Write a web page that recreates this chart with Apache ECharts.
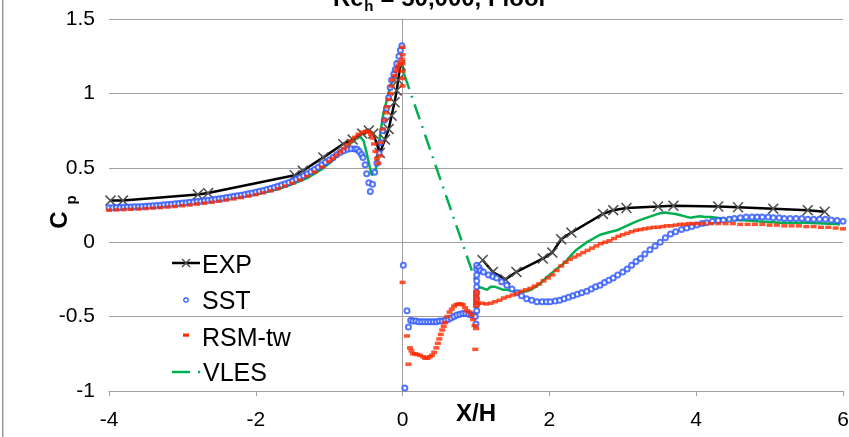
<!DOCTYPE html>
<html><head><meta charset="utf-8">
<script src="https://cdn.jsdelivr.net/npm/echarts@6/dist/echarts.min.js"></script>
<style>html,body{margin:0;padding:0;background:#fff}#c{width:849px;height:437px}</style>
</head><body><div id="c"></div>
<script>
// ---------- DATA ----------
const expUpX = [-3.98,-3.81,-2.79,-2.65,-1.47,-1.36,-1.08,-0.81,-0.68,-0.55,-0.46,-0.40,-0.31,-0.24,-0.19,-0.15,-0.11,-0.08,-0.06,-0.03];
const expUpY = [0.28,0.28,0.32,0.33,0.45,0.48,0.57,0.66,0.69,0.73,0.75,0.73,0.60,0.69,0.76,0.85,0.94,1.02,1.09,1.19];
const expDownX = [1.09,1.23,1.40,1.55,1.91,2.04,2.16,2.30,2.73,2.87,3.05,3.48,3.69,4.30,4.57,5.05,5.52,5.75];
const expDownY = [-0.12,-0.20,-0.25,-0.20,-0.11,-0.07,0.02,0.065,0.19,0.215,0.23,0.24,0.245,0.24,0.235,0.225,0.215,0.205];

const sstX = [-4.00,-3.95,-3.90,-3.85,-3.80,-3.75,-3.70,-3.65,-3.60,-3.55,-3.50,-3.45,-3.40,-3.35,-3.30,-3.25,-3.20,-3.15,-3.10,-3.05,
 -3.00,-2.95,-2.90,-2.85,-2.80,-2.75,-2.70,-2.65,-2.60,-2.55,-2.50,-2.45,-2.40,-2.35,-2.30,-2.25,-2.20,-2.15,-2.10,-2.05,
 -2.00,-1.95,-1.90,-1.85,-1.80,-1.75,-1.70,-1.65,-1.60,-1.55,-1.50,-1.45,-1.40,-1.35,-1.30,-1.25,-1.20,-1.15,-1.10,-1.05,
 -1.00,-0.95,-0.90,-0.85,-0.80,-0.75,-0.70,-0.65,-0.62,-0.59,-0.56,-0.54,-0.51,-0.49,-0.46,-0.44,-0.41,-0.38,-0.35,-0.32,
 -0.30,-0.27,-0.25,-0.22,-0.19,-0.17,-0.15,-0.12,-0.10,-0.08,-0.05,-0.03,-0.01,
 0.01,0.03,0.06,0.08,0.11,0.14,0.18,0.22,0.26,0.30,0.34,0.38,0.42,0.46,0.50,0.54,0.58,0.62,0.66,0.70,0.74,0.78,0.82,0.86,0.90,0.94,0.97,0.99,1.00,
 1.01,1.01,1.01,1.01,1.01,1.01,1.01,1.01,1.01,
 1.04,1.06,1.10,1.17,1.23,1.28,1.35,1.42,1.49,1.56,1.62,1.69,1.76,1.83,1.90,1.96,2.01,2.08,2.14,2.20,2.26,2.32,2.38,2.44,2.51,2.57,2.63,2.69,2.75,2.81,
 2.87,2.93,3.00,3.06,3.12,3.18,3.24,3.30,3.37,3.44,3.51,3.58,3.65,3.72,3.80,3.87,3.94,4.01,4.08,4.14,4.22,4.30,4.37,4.45,4.52,4.60,4.68,4.76,4.83,4.90,
 4.98,5.05,5.13,5.20,5.28,5.36,5.44,5.52,5.60,5.68,5.76,5.84,5.92,6.00];
const sstY = [0.232,0.232,0.233,0.234,0.235,0.236,0.237,0.238,0.239,0.240,0.242,0.243,0.245,0.247,0.249,0.251,0.253,0.255,0.258,0.260,
 0.263,0.265,0.268,0.270,0.273,0.276,0.279,0.282,0.285,0.289,0.292,0.296,0.300,0.304,0.308,0.312,0.316,0.321,0.326,0.331,
 0.336,0.342,0.348,0.354,0.361,0.368,0.376,0.384,0.393,0.402,0.412,0.423,0.435,0.447,0.460,0.474,0.489,0.504,0.520,0.537,
 0.553,0.570,0.587,0.602,0.615,0.624,0.628,0.627,0.625,0.61,0.59,0.57,0.52,0.46,0.40,0.34,0.39,0.47,0.53,0.60,
 0.67,0.75,0.82,0.90,0.97,1.04,1.09,1.13,1.16,1.20,1.25,1.29,1.32,
 -0.155,-0.98,-0.46,-0.57,-0.525,-0.53,-0.53,-0.535,-0.535,-0.535,-0.535,-0.535,-0.535,-0.535,-0.53,-0.53,-0.525,-0.52,-0.51,-0.50,-0.49,-0.485,-0.48,-0.48,-0.485,-0.49,-0.49,-0.50,-0.55,
 -0.46,-0.42,-0.38,-0.34,-0.30,-0.26,-0.22,-0.18,-0.155,
 -0.17,-0.19,-0.20,-0.22,-0.23,-0.24,-0.265,-0.29,-0.315,-0.34,-0.36,-0.38,-0.39,-0.40,-0.40,-0.40,-0.40,-0.395,-0.39,-0.38,-0.37,-0.36,-0.35,-0.34,-0.33,-0.315,-0.30,-0.29,-0.27,-0.255,
 -0.24,-0.22,-0.20,-0.18,-0.155,-0.13,-0.11,-0.08,-0.05,-0.025,0.0,0.03,0.055,0.07,0.085,0.095,0.105,0.115,0.125,0.13,0.14,0.145,0.15,0.155,0.16,0.165,0.17,0.17,0.17,0.17,
 0.17,0.165,0.165,0.16,0.16,0.16,0.16,0.155,0.155,0.155,0.155,0.15,0.145,0.14];

const rsmX = [-4.0,-3.9,-3.8,-3.7,-3.6,-3.5,-3.4,-3.3,-3.2,-3.1,-3.0,-2.9,-2.8,-2.7,-2.6,-2.5,-2.4,-2.3,-2.2,-2.1,
 -2.0,-1.9,-1.8,-1.7,-1.6,-1.5,-1.4,-1.3,-1.2,-1.1,-1.0,-0.95,-0.9,-0.85,-0.8,-0.75,-0.7,-0.65,-0.6,-0.55,
 -0.5,-0.46,-0.43,-0.41,-0.39,-0.37,-0.35,-0.33,-0.31,-0.29,-0.27,-0.25,-0.23,-0.21,-0.19,-0.17,-0.15,-0.13,-0.11,-0.09,
 -0.07,-0.05,-0.03,-0.01,0.0,0.0,0.0,0.0,0.0,0.0,
 0.0,0.06,0.08,0.10,0.12,0.14,0.17,0.20,0.24,0.28,0.31,0.34,0.37,0.40,0.43,0.46,0.48,0.50,0.52,0.54,0.56,0.58,0.61,0.64,0.67,0.70,0.73,0.76,0.79,0.82,
 0.85,0.88,0.91,0.94,0.96,0.98,0.99,1.0,
 1.0,1.0,1.0,1.0,1.0,1.0,
 1.03,1.08,1.14,1.20,1.26,1.32,1.38,1.44,1.50,1.56,1.62,1.68,1.74,1.80,1.86,1.92,1.98,2.04,2.10,2.16,2.22,2.28,2.34,2.40,2.46,2.52,2.58,2.64,2.70,2.76,
 2.82,2.88,2.94,3.00,3.06,3.12,3.18,3.24,3.30,3.36,3.42,3.48,3.54,3.60,3.66,3.72,3.78,3.84,3.90,3.96,4.02,4.10,4.20,4.30,4.40,4.50,4.60,4.70,4.80,4.90,
 5.0,5.1,5.2,5.3,5.4,5.5,5.6,5.7,5.8,5.9,6.0];
const rsmY = [0.215,0.217,0.219,0.221,0.223,0.226,0.229,0.232,0.236,0.240,0.245,0.250,0.256,0.262,0.268,0.275,0.283,0.291,0.300,0.310,
 0.320,0.332,0.345,0.360,0.377,0.396,0.418,0.443,0.472,0.505,0.542,0.562,0.585,0.607,0.63,0.655,0.68,0.705,0.725,0.74,
 0.745,0.74,0.725,0.70,0.66,0.61,0.56,0.53,0.58,0.67,0.76,0.82,0.87,0.91,0.96,1.00,1.05,1.09,1.12,1.15,
 1.17,1.19,1.21,1.23,1.05,1.10,1.15,1.20,1.26,1.31,
 -0.27,-0.63,-0.82,-0.71,-0.73,-0.75,-0.75,-0.755,-0.76,-0.77,-0.78,-0.78,-0.77,-0.76,-0.74,-0.71,-0.68,-0.65,-0.62,-0.59,-0.565,-0.54,-0.50,-0.47,-0.45,-0.43,-0.42,-0.415,-0.415,-0.42,
 -0.44,-0.46,-0.47,-0.49,-0.52,-0.56,-0.72,-0.58,
 -0.43,-0.41,-0.39,-0.37,-0.35,-0.33,
 -0.41,-0.41,-0.415,-0.41,-0.40,-0.39,-0.375,-0.365,-0.355,-0.345,-0.33,-0.32,-0.31,-0.295,-0.28,-0.26,-0.24,-0.22,-0.19,-0.16,-0.135,-0.115,-0.10,-0.085,-0.07,-0.055,-0.04,-0.025,-0.01,0.0,
 0.01,0.025,0.04,0.05,0.06,0.07,0.08,0.085,0.09,0.095,0.10,0.10,0.105,0.11,0.11,0.115,0.12,0.12,0.125,0.125,0.125,0.125,0.125,0.125,0.125,0.125,0.12,0.12,0.12,0.12,
 0.115,0.115,0.11,0.11,0.11,0.105,0.105,0.10,0.10,0.095,0.09];

const vlesUpX = [-4.0,-3.5,-3.0,-2.5,-2.0,-1.7,-1.5,-1.3,-1.1,-0.95,-0.85,-0.75,-0.66,-0.58,-0.53,-0.49,-0.45,-0.42,-0.40,-0.37,-0.35,-0.31,-0.26,-0.17,-0.08,0.0,0.02];
const vlesUpY = [0.225,0.235,0.255,0.285,0.32,0.355,0.39,0.43,0.49,0.55,0.60,0.645,0.685,0.71,0.68,0.60,0.51,0.45,0.445,0.48,0.53,0.71,0.87,1.04,1.18,1.19,1.13];
const vlesDownX = [1.02,1.06,1.10,1.15,1.20,1.26,1.32,1.37,1.42,1.47,1.51,1.56,1.62,1.69,1.75,1.81,1.87,1.93,1.99,2.05,2.11,2.18,2.24,2.30,2.37,2.44,2.51,2.60,2.69,2.80,
 2.92,3.03,3.14,3.24,3.33,3.42,3.51,3.58,3.64,3.72,3.80,3.87,3.92,3.98,4.05,4.12,4.20,4.28,4.40,4.55,4.70,4.83,5.00,5.15,5.30,5.50,5.73,5.96];
const vlesDownY = [-0.30,-0.305,-0.31,-0.32,-0.30,-0.30,-0.31,-0.32,-0.32,-0.325,-0.33,-0.33,-0.335,-0.33,-0.32,-0.30,-0.28,-0.25,-0.225,-0.20,-0.175,-0.15,-0.12,-0.085,-0.05,-0.025,0.0,0.025,0.05,0.065,
 0.08,0.105,0.13,0.15,0.165,0.18,0.195,0.20,0.195,0.19,0.18,0.17,0.165,0.17,0.175,0.17,0.17,0.165,0.155,0.15,0.145,0.14,0.135,0.13,0.13,0.13,0.125,0.12];

const legendNames = ['EXP','SST','RSM-tw','VLES'];
const xTickValues = [-4,-2,0,2,4,6];
const yTickValues = [-1,-0.5,0,0.5,1,1.5];

// ---------- helpers ----------
const zip = (xs, ys) => xs.map((x, i) => [x, ys[i]]);
const FONT = '"Liberation Sans", Arial, sans-serif';
const C_EXP = '#000000', C_EXPM = '#505050', C_SST = '#2a55ff', C_RSM = '#ff2a00', C_VLES = '#00b050';
const X_PATH = 'path://M1,0L5,4L9,0L10,1L6,5L10,9L9,10L5,6L1,10L0,9L4,5L0,1Z';

const vlesUp = zip(vlesUpX, vlesUpY), vlesDown = zip(vlesDownX, vlesDownY);
const bridge = [vlesUp[vlesUp.length - 1], vlesDown[0]];

// text measurement for the title
const mctx = document.createElement('canvas').getContext('2d');
function tw(t, f) { mctx.font = f; return mctx.measureText(t).width; }
const tMainF = 'bold 24px ' + FONT, tSubF = 'bold 15px ' + FONT;
const tx0 = 333, w1 = tw('Re', tMainF), w2 = tw('h', tSubF);

const chart = echarts.init(document.getElementById('c'), null, { renderer: 'canvas' });
chart.setOption({
  animation: false,
  backgroundColor: '#fff',
  grid: { left: 109, right: 6, top: 19, bottom: 46, containLabel: false, outerBoundsMode: 'none' },
  legend: { show: false },
  xAxis: {
    type: 'value', min: -4, max: 6, interval: 2,
    axisLine: { show: true, onZero: false, lineStyle: { color: '#a0a0a0', width: 1 } },
    axisTick: { show: true, length: 5, lineStyle: { color: '#a0a0a0' } },
    axisLabel: { fontSize: 21, color: '#000', fontFamily: FONT, margin: 19, hideOverlap: false,
      formatter: v => xTickValues.includes(v) ? String(v) : '' },
    splitLine: { show: false }
  },
  yAxis: {
    type: 'value', min: -1, max: 1.5, interval: 0.5,
    axisLine: { show: true, lineStyle: { color: '#a0a0a0', width: 1 } },
    axisTick: { show: true, length: 5, lineStyle: { color: '#a0a0a0' } },
    axisLabel: { fontSize: 21, color: '#000', fontFamily: FONT, margin: 14,
      formatter: v => yTickValues.includes(v) ? String(v) : '' },
    splitLine: { show: true, lineStyle: { color: '#a0a0a0', width: 1 } }
  },
  series: [
    { name: 'VLES', type: 'line', data: vlesUp, showSymbol: false, lineStyle: { color: C_VLES, width: 2.5 }, z: 2 },
    { name: 'VLES', type: 'line', data: bridge, showSymbol: false, lineStyle: { color: C_VLES, width: 2.5, type: [16, 7, 2, 7] }, z: 2 },
    { name: 'VLES', type: 'line', data: vlesDown, showSymbol: false, lineStyle: { color: C_VLES, width: 2.5 }, z: 2 },
    { name: 'EXP', type: 'line', data: zip(expUpX, expUpY), symbol: X_PATH, symbolSize: 11, showSymbol: true,
      itemStyle: { color: C_EXPM }, lineStyle: { color: C_EXP, width: 2.5 }, z: 3 },
    { name: 'EXP', type: 'line', data: zip(expDownX, expDownY), symbol: X_PATH, symbolSize: 11, showSymbol: true,
      itemStyle: { color: C_EXPM }, lineStyle: { color: C_EXP, width: 2.5 }, z: 3 },
    { name: 'SST', type: 'scatter', data: zip(sstX, sstY), symbol: 'emptyCircle', symbolSize: 5,
      itemStyle: { color: C_SST, borderWidth: 1.2 }, z: 4 },
    { name: 'RSM-tw', type: 'scatter', data: zip(rsmX, rsmY), symbol: 'rect', symbolSize: [6, 3.5],
      itemStyle: { color: C_RSM }, z: 5 }
  ],
  graphic: [
    // left border of chart area
    { type: 'rect', left: 2, top: 0, shape: { width: 1.5, height: 437 }, style: { fill: '#9a9a9a' }, silent: true },
    // title: Re_h = 50,000, Floor
    { type: 'text', x: tx0, y: -0.2, style: { text: 'Re', font: tMainF, fill: '#000', verticalAlign: 'middle' } },
    { type: 'text', x: tx0 + w1 + 0.5, y: 6.6, style: { text: 'h', font: tSubF, fill: '#000', verticalAlign: 'middle' } },
    { type: 'text', x: tx0 + w1 + w2 + 1, y: -0.2, style: { text: ' = 50,000, Floor', font: tMainF, fill: '#000', verticalAlign: 'middle' } },
    // axis names
    { type: 'text', x: 476, y: 414, style: { text: 'X/H', font: 'bold 24px ' + FONT, fill: '#000', align: 'center', verticalAlign: 'middle' } },
    { type: 'text', x: 60, y: 220, rotation: Math.PI / 2, style: { text: 'C', font: 'bold 24px ' + FONT, fill: '#000', align: 'center', verticalAlign: 'middle' } },
    { type: 'text', x: 72, y: 200, rotation: Math.PI / 2, style: { text: 'p', font: 'bold 15px ' + FONT, fill: '#000', align: 'center', verticalAlign: 'middle' } },
    // legend: EXP
    { type: 'line', shape: { x1: 172, y1: 263, x2: 200, y2: 263 }, style: { stroke: C_EXP, lineWidth: 2.5 } },
    { type: 'line', shape: { x1: 182, y1: 259, x2: 190, y2: 267 }, style: { stroke: C_EXPM, lineWidth: 1.4 } },
    { type: 'line', shape: { x1: 182, y1: 267, x2: 190, y2: 259 }, style: { stroke: C_EXPM, lineWidth: 1.4 } },
    { type: 'text', x: 202, y: 266, style: { text: legendNames[0], font: '25px ' + FONT, fill: '#000', verticalAlign: 'middle' } },
    // SST
    { type: 'circle', shape: { cx: 186, cy: 300, r: 2.2 }, style: { fill: '#fff', stroke: C_SST, lineWidth: 1.2 } },
    { type: 'text', x: 202, y: 302, style: { text: legendNames[1], font: '25px ' + FONT, fill: '#000', verticalAlign: 'middle' } },
    // RSM-tw
    { type: 'rect', shape: { x: 183, y: 333.5, width: 6, height: 3.2 }, style: { fill: C_RSM } },
    { type: 'text', x: 202, y: 339, style: { text: legendNames[2], font: '25px ' + FONT, fill: '#000', verticalAlign: 'middle' } },
    // VLES
    { type: 'line', shape: { x1: 172, y1: 372, x2: 190, y2: 372 }, style: { stroke: C_VLES, lineWidth: 2.5 } },
    { type: 'rect', shape: { x: 198, y: 370.8, width: 2.2, height: 2.5 }, style: { fill: C_VLES } },
    { type: 'text', x: 203, y: 374, style: { text: legendNames[3], font: '25px ' + FONT, fill: '#000', verticalAlign: 'middle' } }
  ]
});
</script>
</body></html>
